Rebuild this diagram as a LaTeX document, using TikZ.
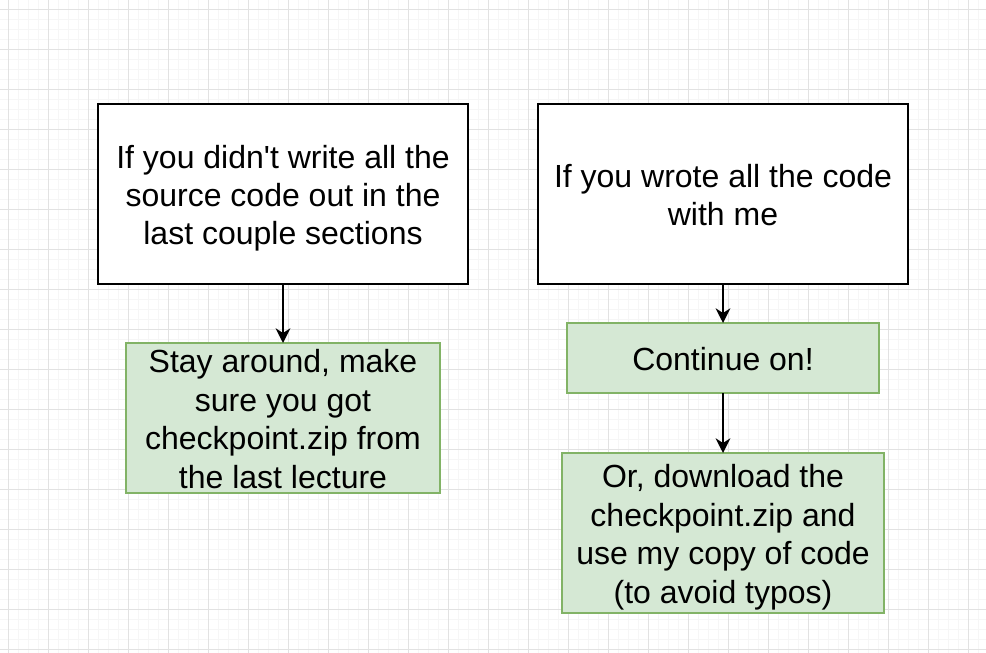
\documentclass[tikz,border=0pt]{standalone}
\usepackage{fontspec}
\newfontfamily\boxfont{Liberation Sans}
\usetikzlibrary{positioning,arrows.meta}
\definecolor{greenfill}{HTML}{D5E8D4}
\definecolor{greenline}{HTML}{82B366}
\definecolor{gridmajor}{HTML}{E2E2E2}
\definecolor{gridminor}{HTML}{F6F6F6}
% struts so that lines sit in the box as 1.2 line height does
\newcommand\linetop[1][23.7pt]{\rule{0pt}{#1}}
\newcommand\linebot[1][5.1pt]{\rule[-#1]{0pt}{#1}}
\tikzset{block/.style={draw,line width=1.5pt,fill=white,align=center,inner sep=0pt,outer sep=0pt,
    font=\boxfont\fontsize{24}{28.8}\selectfont}}
\tikzset{greenblock/.style={block,draw=greenline,fill=greenfill}}
\tikzset{>={Stealth[length=11pt,width=11pt,inset=3.5pt]}}

\begin{document}
\begin{tikzpicture}
    \fill [white] (0,0) rectangle (739.5pt,-489.75pt);
    \useasboundingbox (0,0) rectangle (739.5pt,-489.75pt);
    \begin{scope}[xshift=6pt,yshift=-6.75pt]
        \draw [gridminor,line width=0.6pt,step=7.5pt] (-6pt,6.75pt) grid (733.5pt,-483pt);
        \draw [gridmajor,line width=0.75pt,step=30pt] (-6pt,6.75pt) grid (733.5pt,-483pt);
    \end{scope}

    \node (ifnot) [block,minimum width=277.5pt,minimum height=135pt] at (212.25pt,-145.5pt)
        {\linetop If you didn't write all the\\source code out in the\\last couple sections\linebot};
    \node (ifwrote) [block,minimum width=277.5pt,minimum height=135pt,right=52.5pt of ifnot]
        {\linetop If you wrote all the code\\with me\linebot};
    \node (stay) [greenblock,minimum width=235.5pt,minimum height=112.5pt,below=44.25pt of ifnot]
        {\linetop[22.35pt]Stay around, make\\sure you got\\checkpoint.zip from\\the last lecture\linebot[3.75pt]};
    \node (cont) [greenblock,minimum width=234pt,minimum height=52.5pt,below=29.25pt of ifwrote]
        {\linetop Continue on!\linebot};
    \node (orget) [greenblock,minimum width=241.5pt,minimum height=120pt,below=45pt of cont]
        {\linetop Or, download the\\checkpoint.zip and\\use my copy of code\\(to avoid typos)\linebot};

    \draw [->,line width=1.5pt] (ifnot) -- (stay);
    \draw [->,line width=1.5pt] (ifwrote) -- (cont);
    \draw [->,line width=1.5pt] (cont) -- (orget);
\end{tikzpicture}
\end{document}
